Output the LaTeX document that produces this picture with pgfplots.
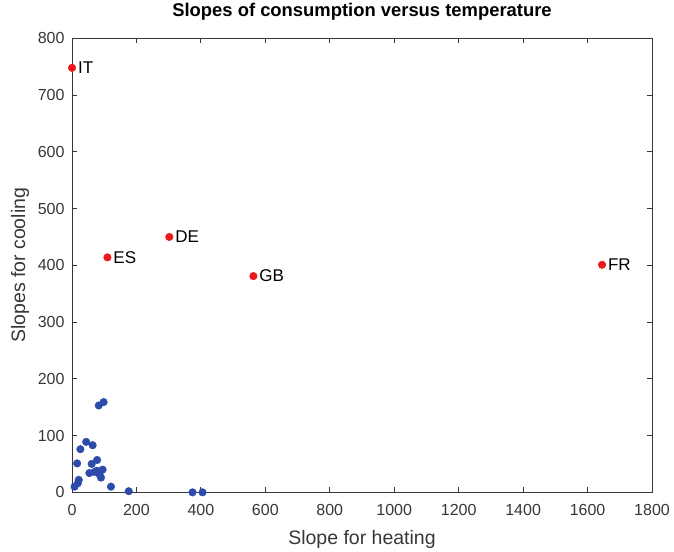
\documentclass[border=0pt]{standalone}
\usepackage{pgfplots}
\pgfplotsset{compat=1.18}
\usepackage{fontspec}
\setmainfont{Liberation Sans}
\definecolor{ptblue}{RGB}{45,75,170}
\definecolor{ptred}{RGB}{235,25,25}
\definecolor{axgray}{RGB}{55,55,55}
\begin{document}
\begin{tikzpicture}
\begin{axis}[
  scale only axis,
  width=580pt, height=454pt,
  xmin=0, xmax=1800, ymin=0, ymax=800,
  xtick={0,200,...,1800}, ytick={0,100,...,800},
  tick align=inside,
  major tick length=5pt,
  axis line style={axgray, line width=0.8pt},
  tick style={axgray, line width=0.8pt},
  tick label style={font=\fontsize{16}{18}\selectfont, text=axgray},
  xticklabel style={yshift=-8pt},
  yticklabel style={xshift=-4pt},
  /pgf/number format/assume math mode=true,
  /pgf/number format/1000 sep={},
  xlabel={Slope for heating},
  ylabel={Slopes for cooling},
  label style={font=\fontsize{19.5}{22}\selectfont, text=axgray},
  xlabel style={at={(axis description cs:0.5,-0.1035)}, anchor=center},
  ylabel style={at={(axis description cs:-0.0897,0.5)}, anchor=center},
  title={\textbf{Slopes of consumption versus temperature}},
  title style={font=\fontsize{18.4}{20}\selectfont, at={(axis description cs:0.5,1.045)}, anchor=center},
  clip=false,
]
\addplot[only marks, mark=*, mark size=3.8pt, color=ptblue] coordinates {
 (83,153) (98,159)
 (44,89) (64,83) (26,76)
 (16,51) (78,57) (61,50)
 (54,34) (77,38) (95,40) (85,32) (90,26) (70,36)
 (21,22) (18,16) (8,10)
 (121,10) (176,2) (374,0) (405,0)
};
\addplot[only marks, mark=*, mark size=3.8pt, color=ptred,
  nodes near coords, point meta=explicit symbolic,
  every node near coord/.append style={anchor=west, font=\fontsize{17}{19}\selectfont, text=black, xshift=2.5pt}]
 table[meta=lab] {
 x y lab
 0 748 IT
 302 450 DE
 110 414 ES
 563 381 GB
 1645 401 FR
};
\end{axis}
\path ([xshift=-72pt,yshift=-56pt]current axis.south west) rectangle ([xshift=22pt,yshift=36pt]current axis.north east);
\end{tikzpicture}
\end{document}
